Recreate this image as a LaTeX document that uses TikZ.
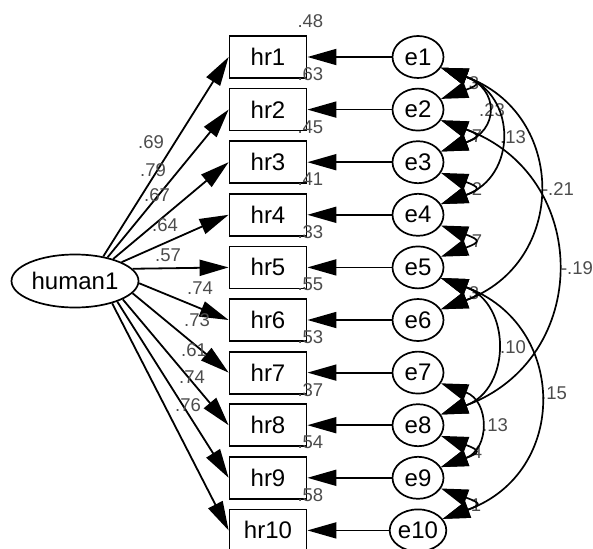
\documentclass[tikz,border=0pt]{standalone}
\usepackage{fontspec}
\setmainfont{Liberation Sans}
\usetikzlibrary{arrows.meta,shapes.geometric}

\tikzset{
  var/.style={draw, line width=1.8pt, minimum width=77pt, minimum height=42pt, inner sep=0pt, font=\fontsize{24}{27}\selectfont},
  err/.style={draw, ellipse, line width=1.7pt, minimum width=51pt, minimum height=42pt, inner sep=0pt, font=\fontsize{24}{27}\selectfont},
  lat/.style={draw, ellipse, line width=1.7pt, minimum width=127pt, minimum height=53pt, inner sep=0pt, font=\fontsize{24}{27}\selectfont},
  est/.style={text=black!70, inner sep=0pt, font=\fontsize{18.5}{20}\selectfont},
  arr/.style={line width=1.8pt, -{Triangle[length=29pt,width=16pt]}},
  cov/.style={line width=1.7pt, {Triangle[length=27pt,width=17pt]}-{Triangle[length=27pt,width=17pt]}},
}

\begin{document}
\begin{tikzpicture}[x=1pt,y=1pt]
    \useasboundingbox (0,0) rectangle (593,-548);
    \node[lat] (human1) at (75,-281) {human1};
    % indicators and their error terms
    \foreach \k in {1,...,10} {
        \pgfmathsetmacro\yy{-57-52.6*(\k-1)}
        \node[var] (hr\k) at (268,\yy) {hr\k};
        \node[err] (e\k) at (418,\yy) {e\k};
    }
    % squared multiple correlations
    \foreach \k/\r in {1/.48,2/.63,3/.45,4/.41,5/.33,6/.55,7/.53,8/.37,9/.54,10/.58}
        \node[est] (r\k) at ([shift={(3,13.5)}]hr\k.north east) {\r};
    % loadings
    \foreach \k/\a/\w/\lx/\ly in {1/41/.69/151/142, 2/36/.79/153/170, 3/30/.67/157/195,
        4/22/.64/165/225, 5/12.5/.57/168/255, 6/-2/.74/200/288, 7/-12/.73/197/320,
        8/-21/.61/194/350, 9/-26/.74/192/377, 10/-31/.76/188/405} {
        \node[est] (w\k) at (\lx,-\ly) {\w};
        \draw[arr] (human1.\a) -- (hr\k.west);
    }
    % covariance labels
    \foreach \n/\c/\lx/\ly in {a/3/474/83, b/.23/492/110, c/.13/513/137, d/7/477/136,
        f/2/477/189, g/-.21/558/189, h/7/477/241, i/-.19/577/268, j/3/474/293,
        k/.10/513/347, l/.15/554/393, m/.13/495/425, n/4/477/452, o/1/476/505}
        \node[est] (c\n) at (\lx,-\ly) {\c};
    % error paths
    \foreach \k in {1,...,10}
        \draw[arr] (e\k) -- (hr\k);
    % covariances
    \foreach \i/\j/\d in {1/2/42, 2/3/42, 3/4/42, 4/5/42, 5/6/42, 8/9/42, 9/10/42,
        1/3/62, 1/4/81, 1/6/135, 2/8/161, 5/8/75, 5/10/135, 7/9/52}
        \draw[cov] (e\i.-25) .. controls +(-20:\d) and +(20:\d) .. (e\j.25);
\end{tikzpicture}
\end{document}
